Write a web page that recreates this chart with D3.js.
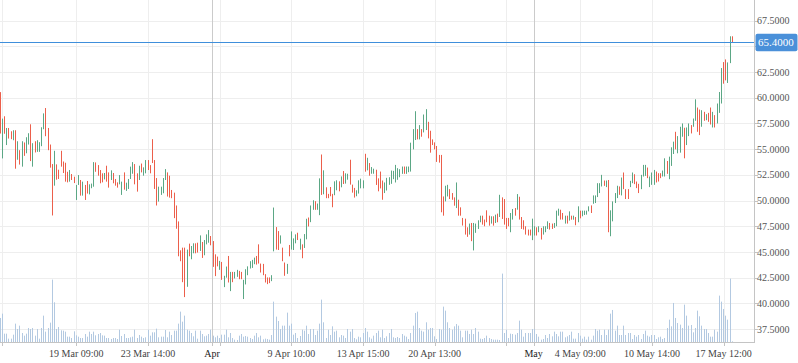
<!DOCTYPE html>
<html>
<head>
<meta charset="utf-8">
<script src="https://cdn.jsdelivr.net/npm/d3@7"></script>
<style>
  body { margin: 0; background: #fff; }
  svg { display: block; }
  text { font-family: "Liberation Serif", "DejaVu Serif", serif; }
</style>
</head>
<body>
<svg id="chart" width="798" height="363"></svg>
<script>
// candle highs / lows, one per bar
const highs = [
  60.55,57.97,58.2,57.06,57.06,56.74,56.84,56.84,55.77,54.9,
  55.77,55.65,56.16,56.55,57.42,55.58,55.77,55.87,55.68,57.13,
  58.48,59.0,57.06,55.45,53.55,54.84,53.52,53.0,54.84,53.8,
  53.68,52.8,52.97,52.58,52.32,51.52,52.48,52.0,51.84,51.52,
  51.9,51.58,51.65,53.74,53.71,53.45,52.97,52.65,52.68,53.39,
  52.74,52.94,52.68,52.1,51.77,52.48,51.84,52.74,51.74,52.1,
  53.3,53.74,53.55,52.65,53.39,53.6,53.23,53.94,53.94,53.45,
  55.97,53.94,52.19,51.35,51.35,52.19,53.06,52.74,52.42,51.03,
  50.77,49.52,47.97,45.16,45.42,45.42,45.23,45.81,
  45.58,45.84,45.84,45.9,46.61,45.97,46.16,46.71,47.13,46.55,
  46.06,44.77,44.55,44.13,44.03,42.68,43.58,44.61,43.06,43.06,
  43.06,43.26,43.16,43.06,42.29,43.32,43.6,44.1,44.23,44.45,
  44.61,45.74,43.87,43.84,42.84,42.52,42.52,42.74,49.32,47.42,
  47.03,46.61,45.42,43.97,43.84,45.68,47.0,46.32,46.71,46.87,
  46.29,45.74,46.74,48.23,48.35,49.52,50.03,49.94,49.71,52.16,
  54.48,52.94,51.29,50.65,51.32,50.65,51.87,51.97,51.87,52.35,
  52.87,52.65,52.61,53.97,51.55,51.23,51.0,51.97,52.13,51.97,
  54.55,54.16,53.65,53.26,53.1,53.0,52.16,
  52.82,51.95,51.76,52.21,52.27,52.92,52.89,53.47,53.15,53.05,
  53.31,53.31,53.31,53.31,55.63,56.95,58.69,56.95,57.34,56.95,
  58.37,58.89,57.66,56.79,55.95,55.66,55.31,54.44,54.44,50.4,
  51.44,51.53,51.11,50.73,50.31,51.76,50.08,49.34,48.31,48.24,
  47.4,47.76,47.82,47.82,47.76,48.08,48.53,48.53,48.15,49.05,
  48.53,48.47,48.47,48.63,48.73,50.56,50.31,50.15,48.31,48.31,
  48.79,49.18,49.27,50.63,50.37,48.4,48.08,47.5,47.18,47.18,
  48.24,47.5,47.4,47.5,47.34,47.5,47.5,47.98,47.82,47.76,
  47.82,49.02,49.21,49.11,48.79,48.53,48.53,
  48.95,48.53,48.53,48.4,49.44,49.02,49.02,49.02,49.02,49.44,
  49.53,50.5,50.5,51.69,51.69,52.5,51.95,51.95,52.0,49.05,
  49.92,50.73,51.44,51.37,52.24,52.73,51.11,51.11,51.92,52.73,
  52.56,51.85,51.63,52.5,53.47,53.47,53.21,52.34,52.73,52.98,
  52.82,52.66,52.66,52.92,54.11,53.85,54.27,55.18,55.73,56.69,
  56.27,57.18,57.5,57.08,57.11,57.5,57.34,57.98,59.85,59.05,
  58.85,58.79,58.63,58.4,58.53,59.05,58.63,58.31,59.44,60.56,
  62.89,63.47,63.73,63.44,65.98,65.98
];
const lows = [
  56.52,54.1,56.5,55.4,56.03,55.97,55.87,53.1,53.97,53.5,
  53.3,54.35,54.6,55.45,53.84,53.3,54.68,54.74,54.74,55.29,
  56.94,56.26,54.9,53.2,48.55,51.45,52.03,52.1,53.3,52.68,
  51.84,51.77,51.84,52.0,51.7,50.06,51.52,50.48,50.48,50.06,
  50.68,50.6,51.2,51.35,52.8,52.42,51.68,51.77,52.06,51.84,
  51.26,52.0,51.68,51.45,51.26,51.58,50.55,51.06,50.94,51.13,
  52.1,52.61,51.58,50.87,52.0,52.74,52.42,52.65,52.97,52.65,
  53.65,51.13,49.52,49.9,50.55,50.71,52.0,50.39,50.29,50.23,
  48.29,47.26,44.58,44.1,42.06,40.61,41.61,44.58,
  44.29,44.87,44.87,44.94,45.1,44.42,44.68,45.74,45.9,45.65,
  43.55,42.65,43.6,43.26,42.29,41.58,42.5,42.03,41.19,42.06,
  42.42,42.58,42.35,42.35,40.42,41.84,42.74,43.39,43.45,43.81,
  43.77,43.87,43.0,42.74,42.03,41.87,41.97,42.16,45.06,45.23,
  45.19,45.81,44.1,42.68,42.87,44.58,45.23,45.19,45.84,46.16,
  45.23,44.39,45.39,46.23,47.48,47.9,49.1,49.1,49.1,48.58,
  50.55,50.61,50.23,50.23,50.42,49.35,50.52,51.0,50.9,51.29,
  51.61,51.65,52.03,51.55,50.77,50.29,50.42,50.68,51.19,51.19,
  52.81,52.94,52.42,52.61,52.61,51.52,50.9,
  51.18,50.08,50.73,50.98,51.53,51.63,52.08,51.76,52.02,52.27,
  52.6,52.6,52.6,52.76,52.82,54.98,55.89,55.95,55.95,56.21,
  56.63,56.86,56.05,54.66,55.4,54.98,53.76,53.69,48.86,48.53,
  49.92,50.4,50.15,50.08,49.5,49.27,48.53,48.53,47.57,46.69,
  46.47,46.69,46.05,45.15,46.86,47.24,47.89,47.66,47.5,47.89,
  47.56,47.76,47.56,47.82,47.89,48.4,48.21,47.66,47.24,47.5,
  46.92,48.15,48.53,49.11,48.15,47.24,47.18,46.69,46.6,46.6,
  46.15,46.6,46.6,46.92,46.21,46.69,46.92,47.24,47.18,47.24,
  47.34,47.5,48.53,48.15,48.15,47.76,47.76,
  48.05,48.14,48.14,47.6,47.89,48.27,48.47,48.6,48.63,48.95,
  48.79,49.69,49.76,50.34,50.73,51.37,51.43,51.31,46.92,46.53,
  47.98,49.76,50.24,50.56,50.5,51.11,50.15,50.15,51.31,51.69,
  51.6,51.21,50.73,51.11,52.34,52.4,52.18,51.31,51.53,51.53,
  51.76,51.85,52.18,52.34,52.34,52.6,52.08,53.37,54.53,54.98,
  54.6,54.66,56.21,54.11,55.4,56.27,56.53,57.18,57.76,56.69,
  56.37,57.18,57.76,57.82,57.66,57.4,57.11,57.11,57.5,58.53,
  59.44,61.37,61.69,61.44,63.37,65.34
];
// g = closed up, r = closed down
const dirs = (
  "rgrgrrgrgr" + "grggrgrggg" + "grrrrgrrrr" + "rrgrrggrgr" + "rgggrrrrgr" +
  "rgrrrggrgg" + "ggrrgrggrr" + "rrrggggrrr" + "rrrrrrgr" +
  "ggrrgrgggr" + "rrrgrggrgr" + "ggrrgggggg" + "rrrrrrrggr" + "rgrrgrgggr" +
  "grggrggrgg" + "rgrrrrggrg" + "rggrrrgggg" + "rgrggrr" +
  "rrgggggggg" + "grgggggrgr" + "ggrrrrrrrr" + "ggrrrgrrrr" + "rgrggggrrr" +
  "rgrgrgrrrr" + "ggrgrrrrrr" + "ggrgrgggrr" + "gggrrgr" +
  "grgrgrgggg" + "rgggggrgrg" + "gggrgrrrgg" + "rrrgggrggg" + "rrrggrgggr" +
  "gggrggrggr" + "rgrgrrgrgg" + "grrggr"
).split("");
const volumes = [
  72,85,25,25,10,10,22,55,39,49, 27,19,25,42,39,42,19,39,10,42,
  79,31,42,58,187,119,39,45,35,34, 31,16,16,12,32,20,16,12,12,24,
  16,31,24,31,20,24,27,20,19,12, 12,9,12,12,9,37,18,24,12,12,
  14,16,37,12,21,16,12,14,37,19, 29,29,40,14,16,16,36,14,31,21,
  34,34,55,91,61,79,37,34,27,17, 34,10,34,24,17,19,24,37,19,14,
  19,12,22,22,37,14,27,12,7,6, 19,24,16,18,16,12,9,19,27,14,
  19,8,10,9,7,21,121,76,63,39, 49,49,88,49,55,22,27,12,18,37,
  34,49,24,39,39,21,34,55,127,59, 12,37,21,47,31,34,14,21,19,12,
  39,31,39,12,8,16,14,27,42,31, 14,10,19,27,34,14,37,12,17,27,
  39,14,12,15,12,24,19,16,9,27, 49,87,91,42,34,31,59,37,42,42,
  17,9,39,37,106,94,59,42,37,47, 54,49,34,14,34,34,24,37,24,42,
  31,10,9,12,19,12,9,7,7,7, 6,205,27,37,12,25,24,22,27,64,
  37,16,27,27,27,39,39,24,16,7, 9,21,12,24,17,31,24,17,31,31,
  14,17,21,31,10,10,27,19,10,16, 7,16,7,19,39,34,37,21,37,21,
  37,85,96,34,49,21,21,49,21,27, 27,9,21,16,21,9,24,34,19,16,
  21,21,9,14,16,9,12,42,67,47, 117,72,57,52,42,112,79,49,51,29,
  42,94,77,49,39,39,27,16,16,37, 31,139,121,99,79,67,190,2
];
const priceTicks = [37.5, 40, 42.5, 45, 47.5, 50, 52.5, 55, 57.5, 60, 62.5, 65, 67.5];
// x-axis ticks: bar index and label ("" = grid line only)
const timeTicks = [1, 35, 68, 101, 134, 167, 200, 233, 267, 300, 333];
const timeLabels = ["", "19 Mar 09:00", "23 Mar 14:00", "", "9 Apr 10:00", "13 Apr 15:00",
  "20 Apr 13:00", "", "4 May 09:00", "10 May 14:00", "17 May 12:00"];
const monthTicks = [97.5, 245.5];
const monthLabels = ["Apr", "May"];
const lastPrice = 65.4;

const W = 798, H = 363;
const plotR = 754, plotB = 342;
const n = highs.length;
const up = "#5ba785", down = "#ec5f4b";

const svg = d3.select("#chart");
const x = d3.scaleLinear().domain([0, n - 1]).range([0.3, 732.3]);
const y = d3.scaleLinear().domain([36.24, 69.51]).range([plotB, 0]);
const yv = d3.scaleLinear().domain([0, d3.max(volumes)]).range([plotB, plotB - plotB * 0.2]);
const px = v => Math.round(v) + 0.5;

// grid
svg.append("g").selectAll("line").data(priceTicks).join("line")
  .attr("x1", 0).attr("x2", plotR).attr("y1", d => px(y(d))).attr("y2", d => px(y(d)))
  .attr("stroke", "#eeeeee");
svg.append("g").selectAll("line").data(timeTicks).join("line")
  .attr("x1", d => px(x(d))).attr("x2", d => px(x(d))).attr("y1", 0).attr("y2", plotB)
  .attr("stroke", "#eeeeee");
svg.append("g").selectAll("line").data(monthTicks).join("line")
  .attr("x1", d => px(x(d))).attr("x2", d => px(x(d))).attr("y1", 0).attr("y2", plotB)
  .attr("stroke", "#cbcbcb");

// volume
svg.append("g").selectAll("rect").data(volumes).join("rect")
  .attr("x", (d, i) => Math.floor(x(i))).attr("width", 1)
  .attr("y", d => yv(d)).attr("height", d => plotB - yv(d))
  .attr("fill", "#b3c9e1");

// candles
svg.append("g").selectAll("rect").data(highs).join("rect")
  .attr("x", (d, i) => Math.floor(x(i))).attr("width", 1)
  .attr("y", d => y(d)).attr("height", (d, i) => Math.max(1, y(lows[i]) - y(d)))
  .attr("fill", (d, i) => dirs[i] === "g" ? up : down);

// last price line
svg.append("line").attr("x1", 0).attr("x2", plotR)
  .attr("y1", px(y(lastPrice))).attr("y2", px(y(lastPrice)))
  .attr("stroke", "#3f8fdb");

// axes
svg.append("line").attr("x1", plotR + 0.5).attr("x2", plotR + 0.5).attr("y1", 0).attr("y2", plotB + 1)
  .attr("stroke", "#c4c4c4");
svg.append("line").attr("x1", 0).attr("x2", plotR).attr("y1", plotB + 0.5).attr("y2", plotB + 0.5)
  .attr("stroke", "#c4c4c4");

// price labels hidden by the last-price tag are not drawn (as in the original)
const shownTicks = priceTicks.filter(d => Math.abs(y(d) - y(lastPrice)) > 12);
const yAx = svg.append("g");
yAx.selectAll("line").data(priceTicks).join("line")
  .attr("x1", plotR).attr("x2", plotR + 4).attr("y1", d => px(y(d))).attr("y2", d => px(y(d)))
  .attr("stroke", "#c4c4c4");
yAx.selectAll("text").data(shownTicks).join("text")
  .attr("x", plotR + 3).attr("y", d => y(d) + 3.6)
  .attr("font-size", 10).attr("fill", "#555")
  .text(d => d.toFixed(4));

const xAx = svg.append("g");
xAx.selectAll("line").data(timeTicks.concat(monthTicks)).join("line")
  .attr("x1", d => px(x(d))).attr("x2", d => px(x(d))).attr("y1", plotB).attr("y2", plotB + 4)
  .attr("stroke", "#c4c4c4");
xAx.selectAll("text.t").data(timeTicks).join("text").attr("class", "t")
  .attr("x", d => x(d)).attr("y", 357).attr("text-anchor", "middle")
  .attr("font-size", 10).attr("fill", "#444")
  .text((d, i) => timeLabels[i]);
xAx.selectAll("text.m").data(monthTicks).join("text").attr("class", "m")
  .attr("x", d => x(d)).attr("y", 357).attr("text-anchor", "middle")
  .attr("font-size", 10).attr("fill", "#222")
  .text((d, i) => monthLabels[i]);

// last price tag
const tag = svg.append("g");
tag.append("rect").attr("x", plotR + 1.5).attr("y", y(lastPrice) - 8.5)
  .attr("width", 42).attr("height", 17.5).attr("rx", 2).attr("fill", "#4a90d9");
tag.append("text").attr("x", plotR + 4).attr("y", y(lastPrice) + 4)
  .attr("font-size", 11).attr("fill", "#fff")
  .text(lastPrice.toFixed(4));
</script>
</body>
</html>
